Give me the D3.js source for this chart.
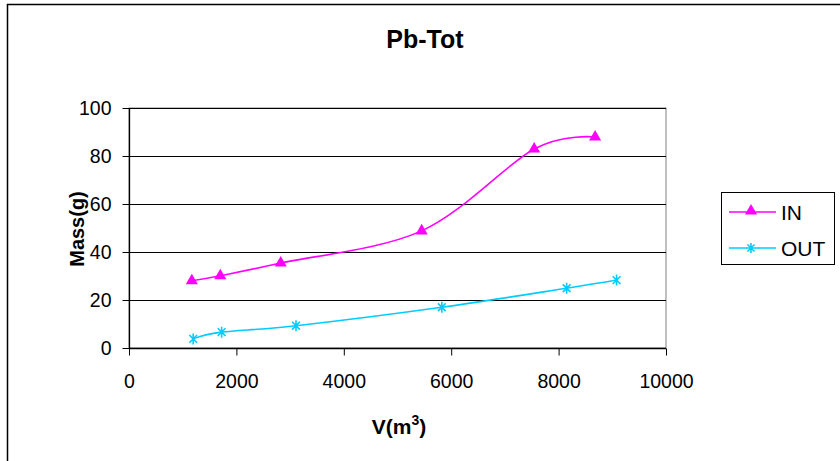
<!DOCTYPE html>
<html>
<head>
<meta charset="utf-8">
<script src="https://cdn.jsdelivr.net/npm/d3@7"></script>
<style>
  html, body { margin: 0; padding: 0; background: #fff; }
  svg { display: block; font-family: Arial, "Liberation Sans", sans-serif; }
</style>
</head>
<body>
<svg id="chart" width="840" height="461"></svg>
<script>
// Inflow and outflow lead mass against cumulative volume
const inVolume  = [1170, 1700, 2825, 5450, 7545, 8680];
const inMass    = [28.0, 30.1, 35.4, 48.8, 82.9, 87.9];
const outVolume = [1195, 1725, 3110, 5825, 8150, 9080];
const outMass   = [3.8, 6.6, 9.3, 17.0, 24.9, 28.3];

const xTicks = [0, 2000, 4000, 6000, 8000, 10000];
const yTicks = [0, 20, 40, 60, 80, 100];

const series = [
  { name: "IN",  color: "#FF00FF", marker: "triangle", xs: inVolume,  ys: inMass },
  { name: "OUT", color: "#00CCFF", marker: "star",     xs: outVolume, ys: outMass }
];

const svg = d3.select("#chart");

// outer chart frame
svg.append("rect")
  .attr("x", 7.5).attr("y", 4.5)
  .attr("width", 840).attr("height", 470)
  .attr("fill", "#fff").attr("stroke", "#000").attr("stroke-width", 1.5);

const plot = { left: 129, right: 666, top: 108, bottom: 348 };

const x = d3.scaleLinear().domain([0, 10000]).range([plot.left, plot.right]);
const y = d3.scaleLinear().domain([0, 100]).range([plot.bottom, plot.top]);

// plot area border
svg.append("rect")
  .attr("x", plot.left).attr("y", plot.top)
  .attr("width", plot.right - plot.left).attr("height", plot.bottom - plot.top)
  .attr("fill", "none").attr("stroke", "#808080").attr("stroke-width", 1);

// horizontal gridlines
svg.append("g")
  .selectAll("line")
  .data(yTicks.filter(t => t > 0))
  .join("line")
  .attr("x1", plot.left).attr("x2", plot.right)
  .attr("y1", d => Math.round(y(d)) + 0.5).attr("y2", d => Math.round(y(d)) + 0.5)
  .attr("stroke", "#000").attr("stroke-width", 1);

// axes
const xAxis = d3.axisBottom(x).tickValues(xTicks).tickSize(7).tickPadding(19).tickFormat(d3.format("d"));
const yAxis = d3.axisLeft(y).tickValues(yTicks).tickSize(7).tickPadding(11).tickFormat(d3.format("d"));

const gx = svg.append("g").attr("transform", `translate(0,${plot.bottom + 0.5})`).call(xAxis);
const gy = svg.append("g").attr("transform", `translate(${plot.left + 0.5},0)`).call(yAxis);

[gx, gy].forEach(g => {
  g.selectAll(".domain").attr("stroke", "#000").attr("stroke-width", 1.3);
  g.selectAll(".tick line").attr("stroke", "#000");
  g.selectAll("text").attr("font-size", 19.5).attr("fill", "#000")
    .attr("font-family", "Arial, 'Liberation Sans', sans-serif");
});
gy.selectAll(".domain").attr("d", `M0,${plot.top}V${plot.bottom}`);
gx.selectAll(".domain").attr("d", `M${plot.left},0H${plot.right}`);

// series lines and markers
const line = d3.line().curve(d3.curveCatmullRom.alpha(0));

const triangle = d3.symbol().type(d3.symbolTriangle).size(64);

function starPath(r) {
  const a = r * Math.SQRT1_2;
  return `M0,${-r}V${r}M${-a},${-a}L${a},${a}M${-a},${a}L${a},${-a}`;
}

series.forEach(s => {
  const pts = s.xs.map((v, i) => [x(v), y(s.ys[i])]);
  svg.append("path")
    .attr("d", line(pts))
    .attr("fill", "none")
    .attr("stroke", s.color)
    .attr("stroke-width", 1.6);

  const g = svg.append("g");
  pts.forEach(p => {
    if (s.marker === "triangle") {
      g.append("path").attr("d", triangle())
        .attr("transform", `translate(${p[0]},${p[1]})`)
        .attr("fill", s.color);
    } else {
      g.append("path").attr("d", starPath(5.5))
        .attr("transform", `translate(${p[0]},${p[1]})`)
        .attr("fill", "none").attr("stroke", s.color).attr("stroke-width", 1.6);
    }
  });
});

// title
svg.append("text")
  .attr("x", 425).attr("y", 48)
  .attr("text-anchor", "middle")
  .attr("font-size", 25).attr("font-weight", "bold")
  .text("Pb-Tot");

// axis titles
svg.append("text")
  .attr("transform", "translate(84,229) rotate(-90)")
  .attr("text-anchor", "middle")
  .attr("font-size", 20).attr("font-weight", "bold")
  .text("Mass(g)");

const xt = svg.append("text")
  .attr("x", 399).attr("y", 434)
  .attr("text-anchor", "middle")
  .attr("font-size", 21).attr("font-weight", "bold");
xt.append("tspan").text("V(m");
xt.append("tspan").attr("font-size", 14).attr("dy", -9).text("3");
xt.append("tspan").attr("dy", 9).text(")");

// legend
const legend = svg.append("g");
legend.append("rect")
  .attr("x", 721.5).attr("y", 192.5)
  .attr("width", 113).attr("height", 72)
  .attr("fill", "#fff").attr("stroke", "#000").attr("stroke-width", 1);

series.forEach((s, i) => {
  const ly = 212 + i * 36;
  legend.append("line")
    .attr("x1", 729).attr("x2", 776)
    .attr("y1", ly).attr("y2", ly)
    .attr("stroke", s.color).attr("stroke-width", 1.6);
  if (s.marker === "triangle") {
    legend.append("path").attr("d", triangle())
      .attr("transform", `translate(751,${ly - 1})`).attr("fill", s.color);
  } else {
    legend.append("path").attr("d", starPath(5))
      .attr("transform", `translate(751,${ly})`)
      .attr("fill", "none").attr("stroke", s.color).attr("stroke-width", 1.6);
  }
  legend.append("text")
    .attr("x", 781).attr("y", ly + 7.5)
    .attr("font-size", 21)
    .text(s.name);
});
</script>
</body>
</html>
